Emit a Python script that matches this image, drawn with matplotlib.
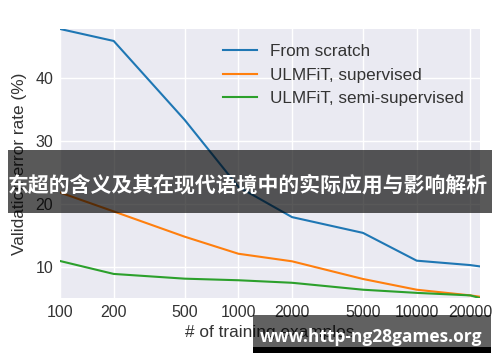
import matplotlib
matplotlib.use('Agg')
import matplotlib.pyplot as plt
from matplotlib.patches import Rectangle

# training set sizes and validation error (%)
n_examples = [100, 200, 500, 1000, 2000, 5000, 10000, 20000, 22500]
scratch = [47.7, 45.8, 33.3, 22.7, 17.9, 15.4, 11.0, 10.3, 10.1]
supervised = [21.8, 18.8, 14.8, 12.1, 10.9, 8.1, 6.4, 5.5, 5.3]
semi_supervised = [10.95, 8.9, 8.15, 7.9, 7.5, 6.4, 5.9, 5.5, 5.1]
xticks = [100, 200, 500, 1000, 2000, 5000, 10000, 20000]
yticks = [10, 20, 30, 40]

banner_text = '东超的含义及其在现代语境中的实际应用与影响解析'
watermark = 'www.http-ng28games.org'

plt.rcParams['font.family'] = ['Liberation Sans', 'DejaVu Sans']
text_col = '.2'

fig = plt.figure(figsize=(5, 3.62), dpi=100)
ax = fig.add_axes([0.12, 0.177, 0.839, 0.743])
ax.set_facecolor('#EAEAF2')
for s in ax.spines.values():
    s.set_visible(False)

ax.plot(n_examples, scratch, color='#1f77b4', lw=1.5, label='From scratch')
ax.plot(n_examples, supervised, color='#ff7f0e', lw=1.5, label='ULMFiT, supervised')
ax.plot(n_examples, semi_supervised, color='#2ca02c', lw=1.5, label='ULMFiT, semi-supervised')

ax.set_xscale('log')
ax.margins(0)
ax.set_xticks(xticks)
ax.set_xticklabels([str(v) for v in xticks])
ax.minorticks_off()
ax.set_yticks(yticks)
ax.grid(True, color='white', lw=1)
ax.set_axisbelow(True)
ax.tick_params(length=0, pad=5, labelsize=11.5, colors=text_col)

ax.set_xlabel('# of training examples', fontsize=12.4, color=text_col, labelpad=4)
ax.set_ylabel('Validation error rate (%)', fontsize=12.4, color=text_col, labelpad=6)

leg = ax.legend(loc='upper right', fontsize=12.3, frameon=False)
for t in leg.get_texts():
    t.set_color(text_col)

# dark title banner over the chart
fig.patches.append(Rectangle((0.016, 0.4124), 0.9686, 0.1732, transform=fig.transFigure,
                             facecolor='black', alpha=0.65, lw=0, zorder=10))
fig.text(0.4947, 0.489, banner_text, ha='center', va='center', color='white',
         fontsize=15, fontweight='bold', zorder=11,
         family=['Noto Sans CJK SC', 'DejaVu Sans'])

# watermark box bottom right
fig.patches.append(Rectangle((0.5054, 0.0423), 0.476, 0.0876, transform=fig.transFigure,
                             facecolor='black', alpha=0.62, lw=0, zorder=10))
fig.patches.append(Rectangle((0.5054, 0.0257), 0.476, 0.0166, transform=fig.transFigure,
                             facecolor='black', lw=0, zorder=10))
fig.text(0.742, 0.0544, watermark, ha='center', va='baseline', color='white',
         fontsize=12.5, fontweight='bold', zorder=11, family=['Open Sans', 'DejaVu Sans'])

fig.savefig('out.png', dpi=100)
